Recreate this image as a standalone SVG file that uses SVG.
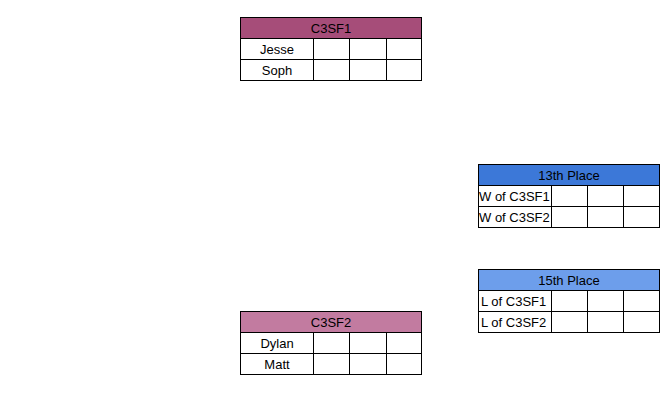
<svg xmlns="http://www.w3.org/2000/svg" width="669" height="408" viewBox="0 0 669 408">
<style>
text{font-family:"Liberation Sans",Arial,sans-serif;font-size:13px;fill:#000}
.c{text-anchor:middle}
.g{fill:none;stroke:#000;stroke-width:1}
.cell{fill:#fff;stroke:#000;stroke-width:1}
</style>
<rect width="669" height="408" fill="#fff"/>
<g id="C3SF1">
<rect x="240.5" y="17.5" width="181" height="21" fill="#a64d79" stroke="#000"/>
<text class="c" x="331" y="33">C3SF1</text>
<rect class="cell" x="240.5" y="38.5" width="181" height="42"/>
<path class="g" d="M240.5 59.5H421.5M313.5 38.5V80.5M349.5 38.5V80.5M386.5 38.5V80.5"/>
<text class="c" x="277" y="54">Jesse</text>
<text class="c" x="277" y="75">Soph</text>
</g>
<g id="C3SF2">
<rect x="240.5" y="311.5" width="181" height="21" fill="#c27ba0" stroke="#000"/>
<text class="c" x="331" y="327">C3SF2</text>
<rect class="cell" x="240.5" y="332.5" width="181" height="42"/>
<path class="g" d="M240.5 353.5H421.5M313.5 332.5V374.5M349.5 332.5V374.5M386.5 332.5V374.5"/>
<text class="c" x="277" y="348">Dylan</text>
<text class="c" x="277" y="369">Matt</text>
</g>
<g id="place13">
<rect x="478.5" y="164.5" width="181" height="21" fill="#3c78d8" stroke="#000"/>
<text class="c" x="569" y="180">13th Place</text>
<rect class="cell" x="478.5" y="185.5" width="181" height="42"/>
<path class="g" d="M478.5 206.5H659.5M551.5 185.5V227.5M587.5 185.5V227.5M623.5 185.5V227.5"/>
<text x="479" y="201">W of C3SF1</text>
<text x="479" y="222">W of C3SF2</text>
</g>
<g id="place15">
<rect x="478.5" y="269.5" width="181" height="21" fill="#6d9eeb" stroke="#000"/>
<text class="c" x="569" y="285">15th Place</text>
<rect class="cell" x="478.5" y="290.5" width="181" height="42"/>
<path class="g" d="M478.5 311.5H659.5M551.5 290.5V332.5M587.5 290.5V332.5M623.5 290.5V332.5"/>
<text x="481" y="306">L of C3SF1</text>
<text x="481" y="327">L of C3SF2</text>
</g>
<g id="connectors"/>
</svg>
